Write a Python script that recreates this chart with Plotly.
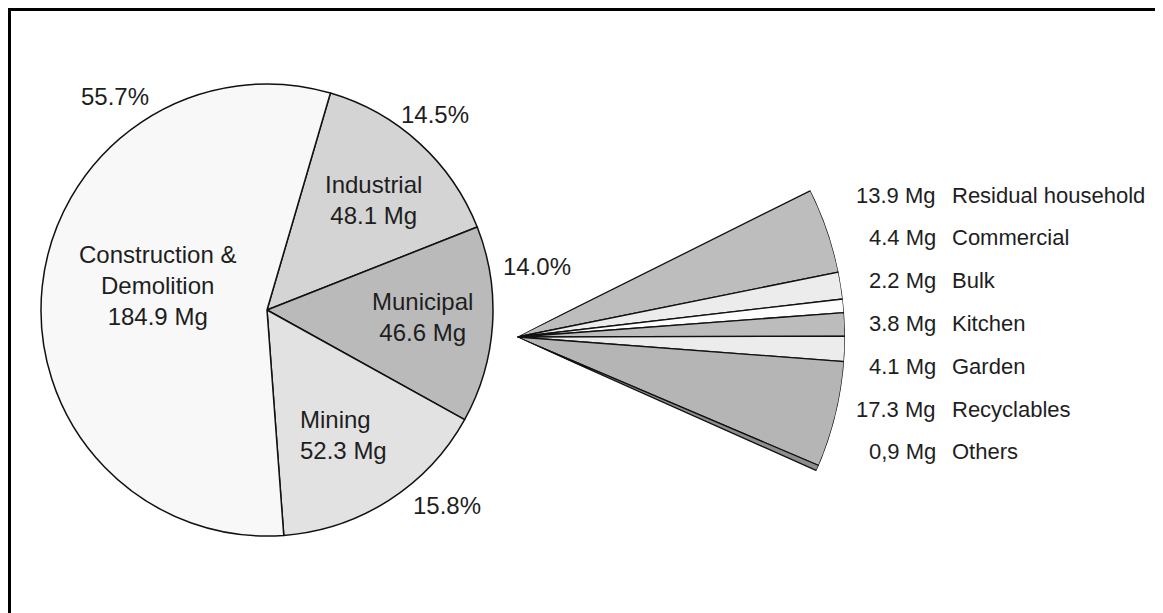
import math
import plotly.graph_objects as go

W, H = 1163, 613
OFF = 8  # page offset of the figure in the browser

# ---- data ----
main_labels = ["Industrial", "Municipal", "Mining", "Construction &<br>Demolition"]
main_values = [48.1, 46.6, 52.3, 184.9]
main_pct = ["14.5%", "14.0%", "15.8%", "55.7%"]
main_colors = ["#d4d4d4", "#bababa", "#e2e2e2", "#f8f8f8"]

sub_labels = ["Residual household", "Commercial", "Bulk", "Kitchen", "Garden", "Recyclables", "Others"]
sub_values = [13.9, 4.4, 2.2, 3.8, 4.1, 17.3, 0.9]
sub_value_text = ["13.9", "4.4", "2.2", "3.8", "4.1", "17.3", "0,9"]
sub_colors = ["#bdbdbd", "#ececec", "#fdfdfd", "#bcbcbc", "#ececec", "#b5b5b5", "#8e8e8e"]

FONT = "Liberation Sans, Arial, sans-serif"


def px(x):
    return (x - OFF) / W


def py(y):
    return 1 - (y - OFF) / H


fig = go.Figure()

# main pie: centre (267,310), radius 226
fig.add_trace(go.Pie(
    values=main_values,
    labels=main_labels,
    sort=False,
    direction="clockwise",
    rotation=16.3,
    textinfo="none",
    hoverinfo="label+value",
    marker=dict(colors=main_colors, line=dict(color="#111111", width=1.5)),
    domain=dict(x=[px(41), px(493)], y=[py(536), py(84)]),
    showlegend=False,
))

# fan (breakdown of municipal) drawn as barpolar sector
total = sum(main_values)
deg_per = 360.0 / total
start = 63.5
thetas, widths = [], []
cum = start
for v in sub_values:
    w = v * deg_per
    thetas.append(cum + w / 2)
    widths.append(w)
    cum += w
end = cum

fig.add_trace(go.Barpolar(
    r=[1] * len(sub_values),
    theta=thetas,
    width=widths,
    marker=dict(color=sub_colors, line=dict(color="#111111", width=1.3)),
    hovertext=sub_labels,
    hoverinfo="text",
    showlegend=False,
    subplot="polar",
))

a0, a1 = 90 - end - 1.0, 90 - start + 1.0
R = 328
cx, cy = 517, 337
ytop = cy - math.sin(math.radians(a1)) * R
ybot = cy - math.sin(math.radians(a0)) * R

fig.update_layout(
    polar=dict(
        domain=dict(x=[px(cx), px(cx + R)], y=[py(ybot), py(ytop)]),
        sector=[a0, a1],
        hole=0,
        bgcolor="rgba(0,0,0,0)",
        radialaxis=dict(visible=False, range=[0, 1]),
        angularaxis=dict(visible=False, direction="clockwise", rotation=90),
        bargap=0,
    ),
)

anns = []
fs_main = 24
TXT = "#1e1e1e"
# percentages
for txt, (x, y) in zip(main_pct, [(435, 115), (537, 266), (447, 505), (115, 97)]):
    anns.append(dict(x=px(x), y=py(y), text=txt, showarrow=False,
                     xanchor="center", yanchor="middle",
                     font=dict(family=FONT, size=fs_main, color=TXT)))
# inside labels
inside_pos = [(373, 200, "center"), (422, 317, "center"), (298, 435, "left"), (157, 285, "center")]
for lab, v, (x, y, xa) in zip(main_labels, main_values, inside_pos):
    anns.append(dict(x=px(x), y=py(y), text=f"{lab}<br>{v} Mg", showarrow=False,
                     xanchor=xa, yanchor="middle", align=xa,
                     font=dict(family=FONT, size=fs_main, color=TXT)))
# fan labels
fs_sub = 22
for i, (num, lab) in enumerate(zip(sub_value_text, sub_labels)):
    y = 195 + i * 42.8
    anns.append(dict(x=px(938), y=py(y), text=f"{num} Mg", showarrow=False,
                     xanchor="right", yanchor="middle",
                     font=dict(family=FONT, size=fs_sub, color=TXT)))
    anns.append(dict(x=px(950), y=py(y), text=lab, showarrow=False,
                     xanchor="left", yanchor="middle",
                     font=dict(family=FONT, size=fs_sub, color=TXT)))

fig.update_layout(
    width=W, height=H,
    margin=dict(l=0, r=0, t=0, b=0),
    paper_bgcolor="white",
    plot_bgcolor="white",
    showlegend=False,
    annotations=anns,
    shapes=[dict(type="rect", xref="paper", yref="paper",
                 x0=px(9.5), x1=1.05, y0=-0.05, y1=py(9.5),
                 line=dict(color="black", width=3), fillcolor="rgba(0,0,0,0)")],
)

fig.write_html("out.html")
